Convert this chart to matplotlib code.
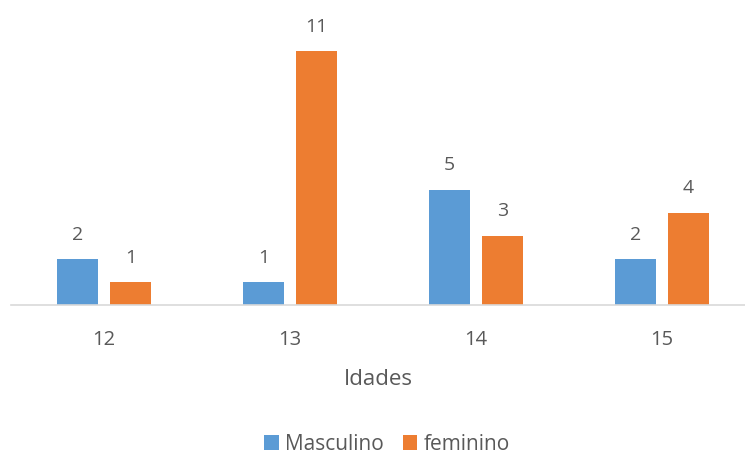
import numpy as np
import matplotlib.pyplot as plt

# dados
idades = ['12', '13', '14', '15']
masculino = [2, 1, 5, 2]
feminino = [1, 11, 3, 4]

plt.rcParams['font.family'] = ['Open Sans', 'DejaVu Sans']
cor_texto = '#595959'

fig = plt.figure(figsize=(7.45, 4.54), dpi=100)
ax = fig.add_axes([11/745, 149/454, 734/745, 277/454])

x = np.arange(len(idades))
w = 0.22
off = 0.1425
b1 = ax.bar(x - off, masculino, w, color='#5B9BD5', label='Masculino')
b2 = ax.bar(x + off, feminino, w, color='#ED7D31', label='feminino')

for barras in (b1, b2):
    for b in barras:
        ax.annotate(str(int(b.get_height())),
                    (b.get_x() + b.get_width()/2, b.get_height()),
                    xytext=(0, 11), textcoords='offset points',
                    ha='center', va='bottom', fontsize=14, color=cor_texto)

ax.set_xlim(-0.5, 3.446)
ax.set_ylim(0, 12)
ax.set_xticks(x)
ax.set_xticklabels(idades, fontsize=14.5, color=cor_texto)
ax.tick_params(axis='x', length=0, pad=18)
ax.set_yticks([])
for s in ['top', 'right', 'left']:
    ax.spines[s].set_visible(False)
ax.spines['bottom'].set_color('#D9D9D9')
ax.spines['bottom'].set_linewidth(1.2)

ax.set_xlabel('Idades', fontsize=16, color=cor_texto, labelpad=14)

fig.legend(handles=[b1, b2], loc='center', bbox_to_anchor=(387/745, 10/454),
           ncol=2, frameon=False, fontsize=15, labelcolor=cor_texto,
           handlelength=0.7, handleheight=0.7, handletextpad=0.3,
           columnspacing=0.9)

fig.savefig('out.png', dpi=100)
